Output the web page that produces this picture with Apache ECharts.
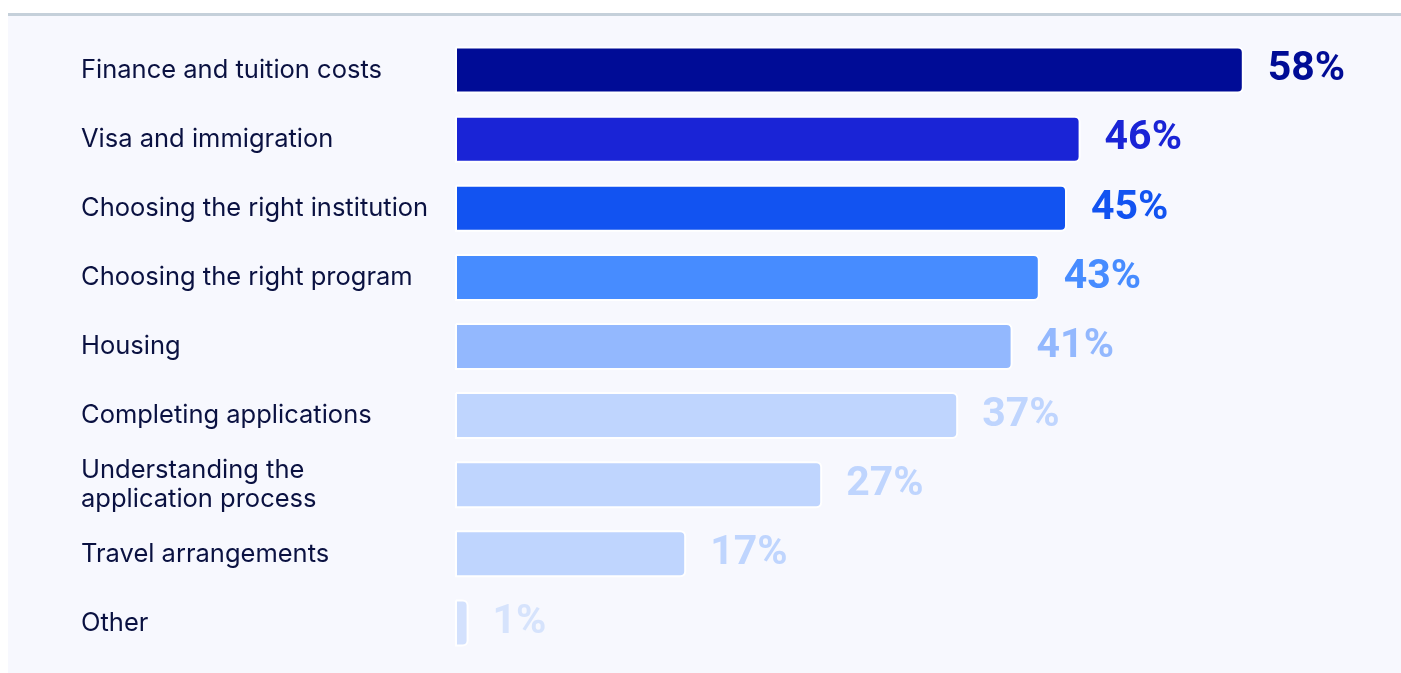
<!DOCTYPE html>
<html>
<head>
<meta charset="utf-8">
<script src="https://cdn.jsdelivr.net/npm/echarts@6/dist/echarts.min.js"></script>
<style>
  html, body { margin: 0; padding: 0; background: #ffffff; }
  #chart { width: 1401px; height: 673px; }
</style>
</head>
<body>
<div id="chart"></div>
<script>
// Challenges reported, top to bottom
const categories = [
  'Finance and tuition costs',
  'Visa and immigration',
  'Choosing the right institution',
  'Choosing the right program',
  'Housing',
  'Completing applications',
  'Understanding the\napplication process',
  'Travel arrangements',
  'Other'
];
const shares = [58, 46, 45, 43, 41, 37, 27, 17, 1];
const barColors = ['#000c96', '#1a24d6', '#1253f1', '#478cff', '#93b8fe', '#bfd5fe', '#bfd5fe', '#bfd5fe', '#d3e1fd'];
const labelColors = ['#000c96', '#1a24d6', '#1253f1', '#478cff', '#93b8fe', '#bfd5fe', '#bfd5fe', '#bfd5fe', '#d6e3fc'];

const chart = echarts.init(document.getElementById('chart'), null, { renderer: 'canvas' });

chart.setOption({
  backgroundColor: '#ffffff',
  animation: false,
  graphic: [
    { type: 'rect', shape: { x: 8, y: 15, width: 1393, height: 658 }, style: { fill: '#f7f8fe' }, z: -10 },
    { type: 'rect', shape: { x: 8, y: 13, width: 1393, height: 3 }, style: { fill: '#c5d0da' }, z: -9 }
  ],
  grid: { left: 455, top: 35.5, width: 884, height: 622, containLabel: false },
  xAxis: {
    type: 'value', min: 0, max: 65,
    show: false
  },
  yAxis: {
    type: 'category',
    inverse: true,
    data: categories,
    axisLine: { show: false },
    axisTick: { show: false },
    splitLine: { show: false },
    axisLabel: {
      align: 'left',
      margin: 374,
      color: '#0a1141',
      fontFamily: 'Inter',
      fontSize: 25.5,
      lineHeight: 29
    }
  },
  series: [{
    type: 'bar',
    barWidth: 47,
    data: shares.map((v, i) => ({
      value: v,
      itemStyle: { color: barColors[i] },
      label: { color: labelColors[i] }
    })),
    itemStyle: { borderColor: '#ffffff', borderWidth: 2, borderRadius: [0, 5, 5, 0] },
    label: {
      show: true,
      position: 'right',
      distance: 24,
      formatter: '{c}%',
      fontFamily: 'Roboto',
      fontWeight: 700,
      fontSize: 41
    }
  }]
});
</script>
</body>
</html>
